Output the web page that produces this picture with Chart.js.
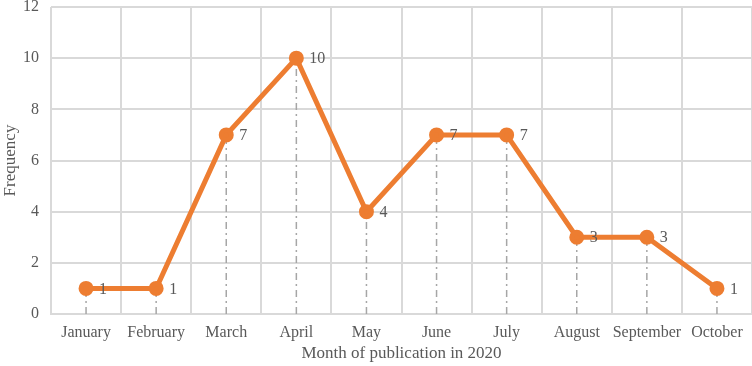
<!DOCTYPE html>
<html lang="en">
<head>
<meta charset="UTF-8">
<title>Frequency by month</title>
<style>
    html, body { margin: 0; padding: 0; background: #fff; }
    #wrap { width: 752px; height: 366px; }
</style>
</head>
<body>
<div id="wrap"><canvas id="chart"></canvas></div>
<script src="https://cdn.jsdelivr.net/npm/chart.js"></script>
<script>
    const months = ['January', 'February', 'March', 'April', 'May', 'June', 'July', 'August', 'September', 'October'];
    const frequency = [1, 1, 7, 10, 4, 7, 7, 3, 3, 1];
    const yTicks = [0, 2, 4, 6, 8, 10, 12];

    const fontFam = "'Liberation Serif', 'Times New Roman', serif";
    const textCol = '#595959';
    const gridCol = '#d9d9d9';

    // dash-dot drop lines + value labels
    const dropLines = {
        id: 'dropLines',
        beforeDatasetsDraw(chart) {
            const ctx = chart.ctx;
            const meta = chart.getDatasetMeta(0);
            const y0 = chart.scales.y.getPixelForValue(0);
            ctx.save();
            ctx.strokeStyle = '#a6a6a6';
            ctx.lineWidth = 1.5;
            ctx.setLineDash([7, 4, 2, 4]);
            meta.data.forEach(p => {
                ctx.beginPath();
                ctx.moveTo(p.x, y0);
                ctx.lineTo(p.x, p.y);
                ctx.stroke();
            });
            ctx.restore();
        },
        afterDatasetsDraw(chart) {
            const ctx = chart.ctx;
            const meta = chart.getDatasetMeta(0);
            ctx.save();
            ctx.fillStyle = textCol;
            ctx.font = '16px ' + fontFam;
            ctx.textAlign = 'left';
            ctx.textBaseline = 'middle';
            meta.data.forEach((p, i) => {
                ctx.fillText(String(frequency[i]), p.x + 13, p.y + 1);
            });
            ctx.restore();
        }
    };

    new Chart(document.getElementById('chart'), {
        type: 'line',
        data: {
            labels: months,
            datasets: [{
                data: frequency,
                borderColor: '#ed7d31',
                backgroundColor: '#ed7d31',
                borderWidth: 5,
                pointRadius: 5,
                pointHoverRadius: 5,
                tension: 0
            }]
        },
        options: {
            responsive: true,
            maintainAspectRatio: false,
            animation: false,
            layout: { autoPadding: false, padding: 0 },
            plugins: {
                legend: { display: false },
                tooltip: { enabled: false }
            },
            scales: {
                x: {
                    offset: true,
                    afterFit(axis) { axis.paddingLeft = 0; axis.paddingRight = 0; axis.height = 52; },
                    grid: { color: gridCol, lineWidth: 2, offset: true, drawTicks: false },
                    border: { color: gridCol, width: 2 },
                    ticks: { color: textCol, font: { family: fontFam, size: 16 }, padding: 9, maxRotation: 0, autoSkip: false },
                    title: { display: true, text: 'Month of publication in 2020', color: textCol, font: { family: fontFam, size: 17 }, padding: { top: 2, bottom: 2 } }
                },
                y: {
                    min: 0,
                    max: 12,
                    afterBuildTicks(axis) { axis.ticks = yTicks.map(v => ({ value: v })); },
                    afterFit(axis) { axis.width = 51; axis.paddingTop = 7; axis.paddingBottom = 0; },
                    grid: { color: gridCol, lineWidth: 2, drawTicks: false },
                    border: { display: false },
                    ticks: { color: textCol, font: { family: fontFam, size: 16 }, padding: 12 },
                    title: { display: true, text: 'Frequency', color: textCol, font: { family: fontFam, size: 17 }, padding: { top: 0, bottom: 3 } }
                }
            }
        },
        plugins: [dropLines]
    });
</script>
</body>
</html>
